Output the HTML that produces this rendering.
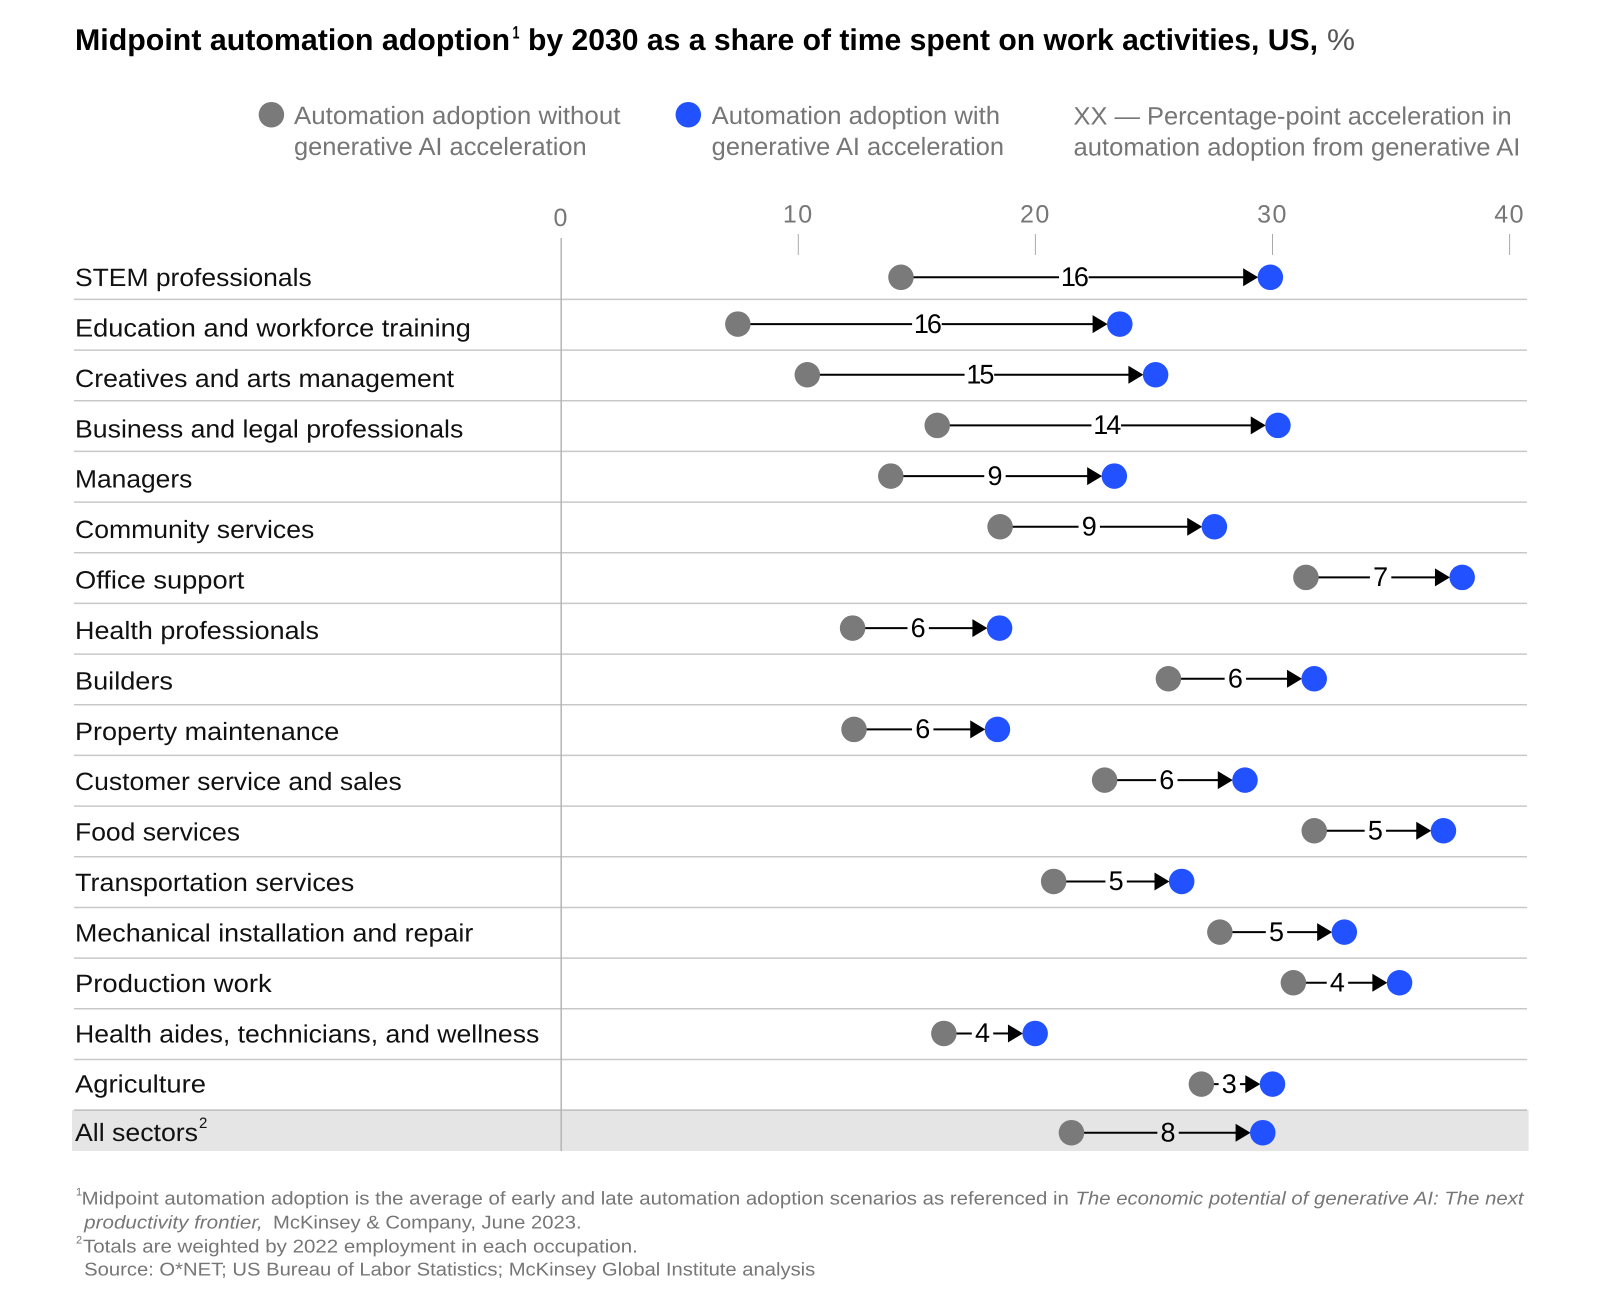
<!DOCTYPE html>
<html lang="en">
<head>
<meta charset="utf-8">
<title>Midpoint automation adoption by 2030</title>
<style>
  html, body { margin: 0; padding: 0; background: #fff; }
  svg { display: block; font-family: "Liberation Sans", sans-serif; text-rendering: geometricPrecision; }
  .legend { font-size: 25px; fill: #767676; }
  .foot { font-size: 18.5px; fill: #767676; }
  .foot-sup { font-size: 11px; fill: #767676; }
  .ital { font-style: italic; }
  .cat { font-size: 25px; fill: #111; }
  .tick { font-size: 25px; letter-spacing: 1.5px; fill: #777; text-anchor: middle; }
  .val { font-size: 27px; fill: #000; text-anchor: middle; }
</style>
</head>
<body>
<svg id="chart" xmlns="http://www.w3.org/2000/svg" width="1600" height="1310" viewBox="0 0 1600 1310">
  <rect x="0" y="0" width="1600" height="1310" fill="#fff"/>

  <g>
    <text x="75" y="50" font-size="30" font-weight="700" fill="#000" textLength="435" lengthAdjust="spacingAndGlyphs">Midpoint automation adoption</text>
    <text x="512.5" y="38.3" font-size="18" font-weight="700" fill="#000" textLength="7" lengthAdjust="spacingAndGlyphs">1</text>
    <text x="528" y="50" font-size="30" font-weight="700" fill="#000" textLength="790" lengthAdjust="spacingAndGlyphs">by 2030 as a share of time spent on work activities, US,</text>
    <text x="1327" y="50" font-size="30" fill="#555" textLength="28" lengthAdjust="spacingAndGlyphs">%</text>
  </g>

  <g>
    <circle cx="271.4" cy="114.7" r="12.75" fill="#7a7a7a"/>
    <text class="legend" x="294" y="124" textLength="326.4" lengthAdjust="spacingAndGlyphs">Automation adoption without</text>
    <text class="legend" x="294" y="155" textLength="292.7" lengthAdjust="spacingAndGlyphs">generative AI acceleration</text>
    <circle cx="688.3" cy="114.7" r="12.75" fill="#2251ff"/>
    <text class="legend" x="711.7" y="124" textLength="288.3" lengthAdjust="spacingAndGlyphs">Automation adoption with</text>
    <text class="legend" x="711.7" y="155" textLength="292.3" lengthAdjust="spacingAndGlyphs">generative AI acceleration</text>
    <text class="legend" x="1073.5" y="124.7" textLength="438.2" lengthAdjust="spacingAndGlyphs">XX — Percentage-point acceleration in</text>
    <text class="legend" x="1073.5" y="155.7" textLength="446.9" lengthAdjust="spacingAndGlyphs">automation adoption from generative AI</text>
  </g>

  <rect x="72" y="1110" width="1456.6" height="41" fill="#e5e5e5"/>
  <g id="grid"></g>
  <g id="axis"></g>
  <g id="labels"></g>
  <text x="199" y="1128" font-size="15" fill="#111">2</text>
  <g id="marks"></g>

  <g>
    <text class="foot-sup" x="76" y="1195.6">1</text>
    <text class="foot" x="81.6" y="1204.3" textLength="987.3" lengthAdjust="spacingAndGlyphs">Midpoint automation adoption is the average of early and late automation adoption scenarios as referenced in</text>
    <text class="foot ital" x="1075.5" y="1204.3" textLength="448" lengthAdjust="spacingAndGlyphs">The economic potential of generative AI: The next</text>
    <text class="foot ital" x="84.2" y="1228.3" textLength="178.6" lengthAdjust="spacingAndGlyphs">productivity frontier,</text>
    <text class="foot" x="273" y="1228.3" textLength="308.6" lengthAdjust="spacingAndGlyphs">McKinsey &amp; Company, June 2023.</text>
    <text class="foot-sup" x="76" y="1243.6">2</text>
    <text class="foot" x="83" y="1252.3" textLength="554.8" lengthAdjust="spacingAndGlyphs">Totals are weighted by 2022 employment in each occupation.</text>
    <text class="foot" x="84.2" y="1275.7" textLength="731.1" lengthAdjust="spacingAndGlyphs">Source: O*NET; US Bureau of Labor Statistics; McKinsey Global Institute analysis</text>
  </g>
</svg>

<script>
const categories = ["STEM professionals", "Education and workforce training", "Creatives and arts management", "Business and legal professionals", "Managers", "Community services", "Office support", "Health professionals", "Builders", "Property maintenance", "Customer service and sales", "Food services", "Transportation services", "Mechanical installation and repair", "Production work", "Health aides, technicians, and wellness", "Agriculture", "All sectors"];
const withoutGenAI = [14.33, 7.45, 10.38, 15.86, 13.90, 18.51, 31.41, 12.29, 25.61, 12.35, 22.92, 31.76, 20.77, 27.78, 30.88, 16.14, 27.00, 21.52];
const withGenAI = [29.91, 23.56, 25.07, 30.23, 23.33, 27.55, 38.00, 18.49, 31.76, 18.40, 28.84, 37.21, 26.17, 33.03, 35.36, 19.99, 30.00, 29.59];
const accelerationLabels = ["16", "16", "15", "14", "9", "9", "7", "6", "6", "6", "6", "5", "5", "5", "4", "4", "3", "8"];
const labelAlong = [0.468, 0.495, 0.494, 0.496, 0.466, 0.416, 0.478, 0.446, 0.459, 0.479, 0.443, 0.473, 0.488, 0.455, 0.415, 0.423, 0.393, 0.505];
const axisTicks = [0, 10, 20, 30, 40];

/* Typesetting only: rendered width of each category label, to match the original typeface. */
const labelFitWidths = [236.7, 395.9, 379, 388.3, 117.3, 239.3, 169.3, 244, 98, 264.3, 326.7, 165, 279.3, 398.3, 196.7, 464.3, 131, 123];

const SVG_NS = "http://www.w3.org/2000/svg";
const TOTAL_ROW = categories.length - 1;

function xScale(v) { return 561.2 + v * 23.71; }
function lineY(i) { return 299.4 + 50.67 * i; }
function dotY(i) {
  if (i === 0) return 277.3;
  if (i === TOTAL_ROW) return 1132.7;
  return lineY(i) - 26;
}
function labelBaseline(i) {
  if (i === TOTAL_ROW) return 1141;
  return 286 + 50.42 * i;
}
function make(tag, parent, attrs) {
  const node = document.createElementNS(SVG_NS, tag);
  for (const key in attrs) node.setAttribute(key, attrs[key]);
  parent.appendChild(node);
  return node;
}

const grid = document.getElementById("grid");
const axis = document.getElementById("axis");
const labels = document.getElementById("labels");
const marks = document.getElementById("marks");

for (let i = 0; i < TOTAL_ROW; i++) {
  const sep = make("line", grid, { x1: 74, x2: 1527, y1: lineY(i), y2: lineY(i), stroke: i === TOTAL_ROW - 1 ? "#bcbcbc" : "#c8c8c8", "stroke-width": 1.5 });
  
  
}

const zeroLine = make("line", axis, { x1: xScale(0), x2: xScale(0), y1: 238, y2: 1151, stroke: "#b4b4b4", "stroke-width": 1.5 });



axisTicks.forEach(function (t) {
  const tickText = make("text", axis, { class: "tick", x: xScale(t), y: t === 0 ? 226 : 222.7 });
  tickText.textContent = String(t);
  
  
  if (t !== 0) {
    const tickLine = make("line", axis, { x1: xScale(t), x2: xScale(t), y1: 234, y2: 255, stroke: "#aaaaaa", "stroke-width": 1 });
    
    
  }
});

categories.forEach(function (name, i) {
  const label = make("text", labels, { class: "cat", x: 75, y: labelBaseline(i), textLength: labelFitWidths[i], lengthAdjust: "spacingAndGlyphs" });
  label.textContent = name;
  
  

  const y = dotY(i);
  const gx = xScale(withoutGenAI[i]);
  const bx = xScale(withGenAI[i]);
  const text = accelerationLabels[i];
  const lx = gx + (bx - gx) * labelAlong[i];
  const gapHalf = text.length > 1 ? 14.8 : 10.7;
  const tip = bx - 12.2;
  const base = tip - 15;

  const row = make("g", marks, {});
  
  

  const lineLeft = make("line", row, { x1: gx, x2: lx - gapHalf, y1: y, y2: y, stroke: "#000", "stroke-width": 2 });
  
  

  const lineRight = make("line", row, { x1: lx + gapHalf, x2: base + 1, y1: y, y2: y, stroke: "#000", "stroke-width": 2 });
  
  

  const head = make("polygon", row, { points: base + "," + (y - 9) + " " + tip + "," + y + " " + base + "," + (y + 9), fill: "#000" });
  
  

  const startDot = make("circle", row, { cx: gx, cy: y, r: 12.75, fill: "#7a7a7a" });
  
  

  const endDot = make("circle", row, { cx: bx, cy: y, r: 12.75, fill: "#2251ff" });
  
  

  const valueText = make("text", row, { class: "val", x: lx, y: y + 8.7 });
  if (text.length > 1) valueText.setAttribute("letter-spacing", "-2");
  valueText.textContent = text;
  
  
});
</script>
</body>
</html>
